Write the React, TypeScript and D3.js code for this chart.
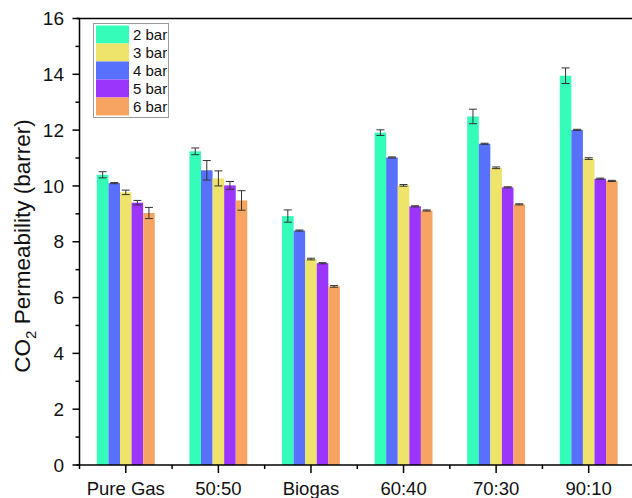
import React from "react";
import * as d3 from "d3";

const categories = ["Pure Gas", "50:50", "Biogas", "60:40", "70:30", "90:10"];
const seriesNames = ["2 bar", "3 bar", "4 bar", "5 bar", "6 bar"];
const bar2 = [10.4, 11.24, 8.92, 11.91, 12.49, 13.95];
const bar3 = [9.77, 10.27, 7.38, 10.02, 10.65, 10.98];
const bar4 = [10.1, 10.56, 8.4, 11.02, 11.51, 12.01];
const bar5 = [9.4, 10.02, 7.23, 9.27, 9.95, 10.26];
const bar6 = [9.03, 9.48, 6.4, 9.12, 9.34, 10.18];
const err2 = [0.11, 0.12, 0.22, 0.1, 0.26, 0.28];
const err3 = [0.08, 0.27, 0.03, 0.03, 0.03, 0.03];
const err4 = [0.02, 0.35, 0.02, 0.02, 0.02, 0.02];
const err5 = [0.08, 0.14, 0.02, 0.02, 0.02, 0.02];
const err6 = [0.2, 0.35, 0.03, 0.02, 0.02, 0.02];
const yTicks = [0, 2, 4, 6, 8, 10, 12, 14, 16];
const colors = ["#33FDB9", "#EEE36B", "#5871FC", "#9B35FB", "#F7A462"];
// order of bars inside each group (indices into series)
const drawOrder = [0, 2, 1, 3, 4];

const values = [bar2, bar3, bar4, bar5, bar6];
const errors = [err2, err3, err4, err5, err6];

const W = 632;
const H = 498;
const left = 79.5;
const right = 635;
const top = 18.5;
const bottom = 465;

export default function App() {
  const x = d3.scaleBand<string>().domain(categories).range([left, right]).paddingInner(0).paddingOuter(0);
  const y = d3.scaleLinear().domain([0, 16]).range([bottom, top]);
  const bw = x.bandwidth();
  const barW = bw * 0.125;
  const minorY = d3.range(1, 16, 2);
  const font = "Liberation Sans, Arial, sans-serif";

  return (
    <svg width={W} height={H} style={{ position: "absolute", left: 0, top: 0, background: "#fff" }} fontFamily={font}>
      {/* bars */}
      {categories.map((c, ci) => {
        const gx = (x(c) as number) + bw / 2 - (barW * 5) / 2;
        return drawOrder.map((si, k) => {
          const v = values[si][ci];
          const e = errors[si][ci];
          const bx = gx + k * barW;
          const cx = bx + barW / 2;
          return (
            <g key={c + si}>
              <rect x={bx} y={y(v)} width={barW} height={y(0) - y(v)} fill={colors[si]} />
              <line x1={cx} x2={cx} y1={y(v + e)} y2={y(v - e)} stroke="#333" strokeWidth={1} />
              <line x1={cx - 4} x2={cx + 4} y1={y(v + e)} y2={y(v + e)} stroke="#333" strokeWidth={1} />
              <line x1={cx - 4} x2={cx + 4} y1={y(v - e)} y2={y(v - e)} stroke="#333" strokeWidth={1} />
            </g>
          );
        });
      })}
      {/* frame */}
      <line x1={left} x2={left} y1={top} y2={bottom} stroke="#000" strokeWidth={1.5} />
      <line x1={left - 3} x2={W} y1={top} y2={top} stroke="#000" strokeWidth={1.5} />
      <line x1={left - 3} x2={W} y1={bottom} y2={bottom} stroke="#000" strokeWidth={1.5} />
      {/* y ticks */}
      {yTicks.map((t) => (
        <g key={"y" + t}>
          <line x1={left - 7} x2={left} y1={y(t)} y2={y(t)} stroke="#000" strokeWidth={1.5} />
          <text x={64} y={y(t)} dy="0.35em" textAnchor="end" fontSize={19} fill="#111">
            {t}
          </text>
        </g>
      ))}
      {minorY.map((t) => (
        <line key={"ym" + t} x1={left - 4} x2={left} y1={y(t)} y2={y(t)} stroke="#000" strokeWidth={1.5} />
      ))}
      {/* x ticks */}
      {categories.map((c) => {
        const cx = (x(c) as number) + bw / 2;
        return (
          <g key={"x" + c}>
            <line x1={cx} x2={cx} y1={bottom} y2={bottom + 8} stroke="#000" strokeWidth={1.5} />
            <text x={cx} y={495} textAnchor="middle" fontSize={18.5} fill="#111">
              {c}
            </text>
          </g>
        );
      })}
      {categories.map((c) => (
        <line key={"xm" + c} x1={x(c) as number} x2={x(c) as number} y1={bottom} y2={bottom + 4} stroke="#000" strokeWidth={1.5} />
      ))}
      {/* y label */}
      <text transform={`translate(30,246) rotate(-90)`} textAnchor="middle" fontSize={22.5} fill="#111">
        CO
        <tspan fontSize={15} dy={6}>2</tspan>
        <tspan dy={-6}> Permeability (barrer)</tspan>
      </text>
      {/* legend */}
      <rect x={93.5} y={23.5} width={75} height={94} fill="#fff" stroke="#999" strokeWidth={1} />
      {seriesNames.map((n, i) => (
        <g key={n}>
          <rect x={96} y={25.5 + i * 18} width={33} height={18} fill={colors[i]} />
          <text x={133} y={25.5 + i * 18 + 9} dy="0.36em" fontSize={15} fill="#111">
            {n}
          </text>
        </g>
      ))}
    </svg>
  );
}
